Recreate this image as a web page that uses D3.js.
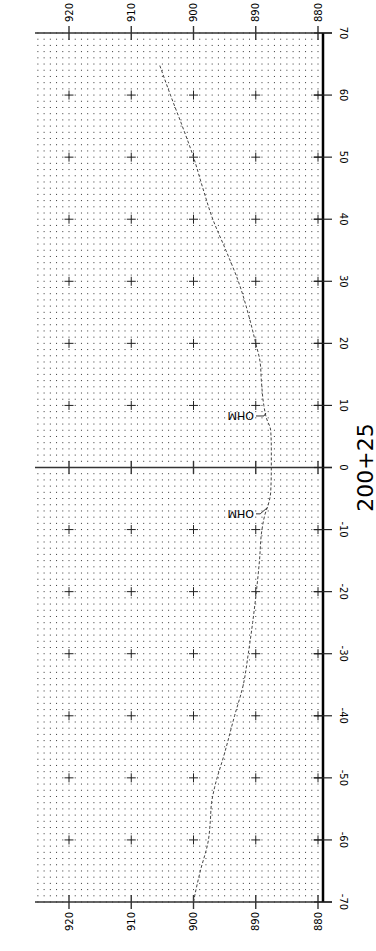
<!DOCTYPE html>
<html><head><meta charset="utf-8">
<script src="https://cdn.jsdelivr.net/npm/d3@7"></script>
<style>html,body{margin:0;padding:0;background:#fff;}svg{display:block;font-family:"DejaVu Sans",sans-serif;}</style>
</head><body>
<svg id="c" width="376" height="951"></svg>
<script>
// Data
const positions = [-70,-68,-65,-60,-57,-54,-51.5,-46,-40,-35,-30,-25,-20,-15,-10,-7.5,-6,-4,0,3,6,8,10,14,17,20,24,30,35,40,45,50,55,60,65];
const levels = [900,899.6,898.9,897.6,897.3,897.1,896.6,895,893.4,892,891.2,890.5,889.9,889.4,889,888.5,888,887.6,887.5,887.5,887.6,888.3,888.7,889.1,889.3,890,891,892.8,894.8,896.9,898.5,900,901.8,903.7,905.5];
const levelTicks = [920,910,900,890,880];
const posTicks = [-70,-60,-50,-40,-30,-20,-10,0,10,20,30,40,50,60,70];
const labelText = "MHO";
const labelPositions = [8.3, -6.5];
const title = "200+25";

const svg = d3.select("#c");
const x = d3.scaleLinear().domain([920,880]).range([69,318]);
const y = d3.scaleLinear().domain([70,-70]).range([33,902]);
const left = 35, right = 323, tickEnd = 332;

// dotted grid
const dots = [];
for (let lv = 880; lv <= 925; lv++) for (let p = -70; p <= 70; p++) dots.push([lv,p]);
svg.append("g").selectAll("rect").data(dots).join("rect")
  .attr("x", d => x(d[0]) - 0.5).attr("y", d => y(d[1]) - 0.5)
  .attr("width", 1).attr("height", 1).attr("fill", "#000").attr("opacity", 0.8);

// plus markers at major intersections
const plus = [];
levelTicks.forEach(lv => posTicks.forEach(p => { if (p !== 70 && p !== -70 && p !== 0) plus.push([lv,p]); }));
const pg = svg.append("g").attr("stroke", "#222").attr("stroke-width", 1);
pg.selectAll(".h").data(plus).join("line").attr("class","h")
  .attr("x1", d => x(d[0]) - 4.5).attr("x2", d => x(d[0]) + 4.5)
  .attr("y1", d => y(d[1])).attr("y2", d => y(d[1]));
pg.selectAll(".v").data(plus).join("line").attr("class","v")
  .attr("x1", d => x(d[0])).attr("x2", d => x(d[0]))
  .attr("y1", d => y(d[1]) - 4.5).attr("y2", d => y(d[1]) + 4.5);

// horizontal frame lines: top, zero, bottom
const hl = svg.append("g").attr("stroke", "#333").attr("stroke-width", 1.4);
[70, 0, -70].forEach(p => {
  hl.append("line").attr("x1", left).attr("x2", tickEnd).attr("y1", y(p)).attr("y2", y(p));
  levelTicks.forEach(lv => {
    const len = p === 0 ? 6.5 : 7;
    hl.append("line").attr("x1", x(lv)).attr("x2", x(lv)).attr("y1", y(p) - len).attr("y2", y(p) + len);
  });
});

// right axis
svg.append("line").attr("x1", right).attr("x2", right).attr("y1", y(70)).attr("y2", y(-70))
  .attr("stroke", "#000").attr("stroke-width", 2.5);
svg.append("g").attr("stroke", "#222").attr("stroke-width", 1.2)
  .selectAll("line").data(posTicks).join("line")
  .attr("x1", 314).attr("x2", tickEnd).attr("y1", d => y(d)).attr("y2", d => y(d));

// right labels (rotated 90)
svg.append("g").selectAll("text").data(posTicks).join("text")
  .attr("transform", d => `translate(343,${y(d)}) rotate(90)`)
  .attr("text-anchor", "middle").attr("dominant-baseline", "central")
  .attr("font-size", 10).attr("fill", "#000").text(d => d);

// top & bottom labels (rotated -90)
svg.append("g").selectAll("text").data(levelTicks).join("text")
  .attr("transform", d => `translate(${x(d)},22) rotate(-90)`)
  .attr("text-anchor", "start").attr("dominant-baseline", "central")
  .attr("font-size", 10).attr("fill", "#000").text(d => d);
svg.append("g").selectAll("text").data(levelTicks).join("text")
  .attr("transform", d => `translate(${x(d)},912) rotate(-90)`)
  .attr("text-anchor", "end").attr("dominant-baseline", "central")
  .attr("font-size", 10).attr("fill", "#000").text(d => d);

// curve
const pts = positions.map((p,i) => [levels[i], p]);
const line = d3.line().x(d => x(d[0])).y(d => y(d[1])).curve(d3.curveMonotoneY);
svg.append("path").datum(pts).attr("d", line).attr("fill", "none")
  .attr("stroke", "#444").attr("stroke-width", 1).attr("stroke-dasharray", "3,2");

// labels
const interp = d3.scaleLinear().domain(positions).range(levels);
labelPositions.forEach((p, i) => {
  const cx = x(interp(p)), cy = y(p);
  const ty = i === 0 ? cy : cy + 6;
  const g = svg.append("g");
  g.append("path")
    .attr("d", i === 0 ? `M256,${ty}H${cx-2}L${cx},${cy-3}` : `M256,${ty}H${cx-7}L${cx},${cy}`)
    .attr("fill", "none").attr("stroke", "#333").attr("stroke-width", 1);
  g.append("text").attr("transform", `translate(254,${ty}) scale(1,-1)`)
    .attr("text-anchor", "end").attr("dominant-baseline", "central")
    .attr("font-size", 11).attr("fill", "#000").text(labelText);
});

// title
svg.append("text").attr("transform", `translate(365,${y(0)}) rotate(-90)`)
  .attr("text-anchor", "middle").attr("dominant-baseline", "central")
  .attr("font-size", 22).attr("fill", "#000").text(title);
</script>
</body></html>
